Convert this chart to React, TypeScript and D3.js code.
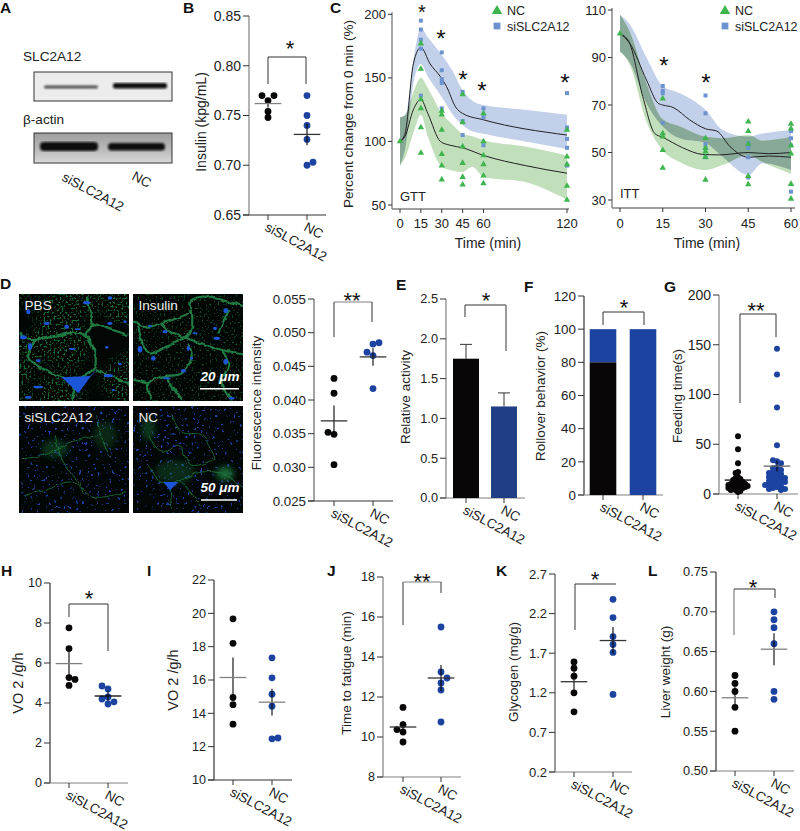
import React from 'react';
import * as d3 from 'd3';

const categories = ['siSLC2A12', 'NC'];
const FONT = '"Liberation Sans", Arial, sans-serif';
const BLACK = '#080606';
const BLUE = '#1c43a0';
const GRAY = '#808080';
const DARK = '#333333';

// Panel B
const bTicks = [0.65, 0.7, 0.75, 0.8, 0.85];
const bSi = [0.77, 0.77, 0.765, 0.754, 0.748];
const bSiLane = [-1, 1, 0, 0, 0];
const bNc = [0.77, 0.75, 0.74, 0.726, 0.7, 0.703];
const bNcLane = [0, 0, 0, 0, 0, 1];
const bMean = [0.762, 0.731];
const bSem = [0.004, 0.011];
// Panel D
const dTicks = [0.025, 0.03, 0.035, 0.04, 0.045, 0.05, 0.055];
const dSi = [0.0432, 0.041, 0.0349, 0.0352, 0.0304];
const dSiLane = [0, 0, 0, -1, 0];
const dNc = [0.0485, 0.0483, 0.0471, 0.0466, 0.0417];
const dNcLane = [1, 0, -1, 0, 0];
const dMean = [0.0369, 0.0464];
const dSem = [0.0023, 0.0013];
// Panel E
const eTicks = [0, 0.5, 1, 1.5, 2, 2.5];
const eValues = [1.75, 1.15];
const eErrors = [0.18, 0.17];
// Panel F
const fTicks = [0, 20, 40, 60, 80, 100, 120];
const fBlack = [80, 0];
const fBlue = [20, 100];
// Panel G
const gTicks = [0, 50, 100, 150, 200];
const gSi = [58, 45, 31, 17, 22, 21, 16, 15, 14, 14, 13, 12, 12, 11, 11, 10, 10, 10, 9, 9, 9, 8, 8, 8, 7, 7, 7, 6, 6, 6, 5, 5, 4, 4, 3, 2];
const gNc = [146, 120, 87, 49, 33, 34, 31, 27, 26, 24, 23, 22, 21, 20, 19, 18, 17, 16, 16, 15, 14, 13, 12, 12, 11, 10, 9, 9, 8, 7, 6, 5, 5, 4];
const gMean = [14, 28];
const gSem = [2.5, 5.5];
// Panel H
const hTicks = [0, 2, 4, 6, 8, 10];
const hSi = [7.76, 6.72, 5.27, 5.18, 4.88];
const hSiLane = [0, 0, 0, 1, 0];
const hNc = [4.85, 4.7, 4.2, 4.3, 4.06, 3.95];
const hNcLane = [-1, 0, -1, 0, 1, 0];
const hMean = [5.97, 4.35];
const hSem = [0.6, 0.25];
// Panel I
const iTicks = [10, 12, 14, 16, 18, 20, 22];
const iSi = [19.67, 18.2, 14.95, 14.52, 13.35];
const iSiLane = [0, 0, 0, 0, 0];
const iNc = [17.33, 16.13, 15.15, 14.43, 12.47, 12.52];
const iNcLane = [0, 0, 0, 0, 0, 1];
const iMean = [16.15, 14.67];
const iSem = [1.2, 0.8];
// Panel J
const jTicks = [8, 10, 12, 14, 16, 18];
const jSi = [11.48, 10.62, 10.37, 10.25, 9.75];
const jSiLane = [0, 0, -1, 0, 0];
const jNc = [15.5, 13.25, 12.95, 12.7, 12.35, 10.75];
const jNcLane = [0, 0, 1, 0, 0, 0];
const jMean = [10.5, 12.95];
const jSem = [0.3, 0.65];
// Panel K
const kTicks = [0.2, 0.7, 1.2, 1.7, 2.2, 2.7];
const kSi = [1.59, 1.51, 1.41, 1.2, 0.96];
const kNc = [2.38, 2.15, 1.91, 1.81, 1.71, 1.18];
const kZero5 = [0, 0, 0, 0, 0];
const kZero6 = [0, 0, 0, 0, 0, 0];
const kMean = [1.34, 1.86];
const kSem = [0.13, 0.17];
// Panel L
const lTicks = [0.5, 0.55, 0.6, 0.65, 0.7, 0.75];
const lSi = [0.62, 0.61, 0.6, 0.58, 0.55];
const lNc = [0.7, 0.69, 0.68, 0.66, 0.6, 0.59];
const lMean = [0.592, 0.653];
const lSem = [0.014, 0.02];

// Panel C, GTT
const gttTicks = [50, 100, 150, 200];
const gttTimeTicks = [0, 15, 30, 45, 60, 120];
const gttBandT = [0, 4, 10, 15, 20, 30, 38, 45, 52, 60, 90, 120];
const gttSiUpper = [119, 121, 167, 189, 182, 168, 155, 140, 132, 128.6, 125, 121];
const gttSiLower = [81, 96, 148, 161, 151, 135, 121, 113, 108, 106, 100, 94];
const gttNcUpper = [119, 121, 140, 150, 142, 122, 113, 106, 104, 101, 96, 89];
const gttNcLower = [81, 88, 108, 121, 104, 80, 77, 76, 80, 72, 68, 54];
const gttSiLineT = [0, 3.6, 9.6, 15, 21.6, 29, 33.5, 40, 45, 60, 120];
const gttSiLine = [100, 106, 161, 174, 161, 151, 143, 127, 122, 117, 105];
const gttNcLineT = [0, 3.6, 9.6, 15, 20, 29, 36, 45, 60, 90, 120];
const gttNcLine = [100, 104, 125, 133, 122, 100, 97, 95, 89, 81, 75];
const gttTimes = [15, 30, 45, 60, 120];
const gttSiPts = [[195, 188, 180, 173, 136], [170, 156, 149, 146, 126], [139, 116, 105], [126, 119, 97], [138, 111, 102, 95, 81]];
const gttNcPts = [[177, 157, 133, 126, 111, 91], [124, 121, 109, 90, 81, 70], [137, 115, 96, 83, 72, 66], [122, 100, 89, 82, 73, 67], [109, 88, 82, 65, 54]];
// Panel C, ITT
const ittTicks = [30, 50, 70, 90, 110];
const ittTimeTicks = [0, 15, 30, 45, 60];
const ittBandT = [0, 3.4, 9.3, 15, 21, 30, 36, 45, 50, 60];
const ittSiUpper = [108, 104, 90, 78, 75, 68, 59.5, 56.7, 58, 59.5];
const ittSiLower = [92.5, 88, 70.7, 61, 56, 54, 48.2, 40.5, 45.5, 42.6];
const ittNcUpper = [108, 101, 79, 64, 61, 56.7, 56, 57.4, 55, 56.6];
const ittNcLower = [92.5, 87, 63, 51, 46, 42.6, 44.7, 49, 46, 41];
const ittSiLineT = [0, 3.4, 9.3, 13.4, 15, 18.6, 24.5, 30, 34, 38.6, 45, 52, 60];
const ittSiLine = [100, 96, 80.5, 70.7, 70, 69, 63.7, 60, 59, 52.5, 48, 48.5, 48];
const ittNcLineT = [0, 3, 8, 12.2, 15, 22, 29, 35, 45, 52, 60];
const ittNcLine = [100, 97, 73.5, 58, 56.4, 52, 49.2, 49, 50, 49.5, 50];
const ittTimes = [15, 30, 45, 60];
const ittSiPts = [[78, 76, 75, 62.5], [74, 66.5, 53.6, 51.8, 48], [54, 52, 48, 39.5], [59, 56, 53, 33.5]];
const ittNcPts = [[72.7, 58, 56.7, 51, 43.5], [56, 51.8, 50.4, 48, 38.5], [63, 59, 53.6, 40, 36.6], [62, 60, 53, 49.5, 36.7, 30.5]];

// Image-panel sketches, in zoomed-image units of the micrographs
const upperMembranes = [
  [[12, 130], [50, 150], [100, 140], [210, 135], [240, 230], [180, 270]],
  [[240, 240], [340, 280]],
  [[210, 135], [232, 100], [220, 50], [215, 20]],
  [[60, 150], [40, 200], [90, 240], [150, 265]],
  [[180, 290], [170, 330]],
  [[232, 100], [340, 135]],
  [[358, 90], [380, 110], [440, 100], [530, 60], [520, 40], [560, 20], [690, 50]],
  [[440, 100], [460, 120], [530, 150], [620, 180], [690, 190]],
  [[530, 60], [525, 130], [470, 160], [400, 190], [370, 110]],
  [[520, 160], [530, 200], [500, 250], [440, 260], [400, 280], [410, 330]],
  [[620, 180], [640, 220], [620, 280], [650, 330]],
  [[610, 130], [640, 60]],
  [[450, 260], [500, 330]],
  [[400, 280], [358, 270]],
];
const upperBlobs = [
  [215, 38, 11, 5], [285, 24, 7, 5], [95, 100, 9, 5], [155, 110, 7, 6], [285, 100, 8, 5], [188, 118, 9, 3], [25, 142, 10, 6], [45, 170, 6, 10], [172, 177, 10, 3],
  [70, 212, 7, 4], [315, 222, 5, 4], [275, 172, 5, 4], [280, 257, 14, 5], [70, 291, 15, 4], [295, 300, 6, 3], [40, 322, 10, 4], [40, 65, 6, 8], [330, 95, 5, 4],
  [450, 125, 8, 5], [405, 108, 7, 3], [375, 178, 7, 10], [415, 205, 7, 7], [520, 175, 5, 8], [530, 205, 4, 4], [505, 242, 8, 5], [632, 215, 7, 8], [632, 62, 7, 7],
  [600, 115, 6, 5], [605, 145, 10, 5], [455, 265, 12, 3], [540, 130, 8, 3], [650, 325, 9, 4],
];
const lowerMembranes = [
  [[20, 170], [60, 165], [110, 150], [170, 120], [250, 100]],
  [[120, 100], [140, 170], [165, 210], [190, 240], [205, 275]],
  [[30, 280], [90, 265], [170, 240], [240, 285], [335, 268]],
  [[245, 40], [260, 110], [290, 170]],
  [[400, 190], [440, 240], [480, 240], [560, 210], [620, 215], [690, 260]],
  [[400, 100], [440, 150], [490, 130], [530, 190], [600, 170]],
  [[470, 40], [500, 90], [560, 100], [600, 170]],
  [[465, 255], [470, 320]],
  [[495, 235], [560, 310]],
];
const imageRects = [
  { x: 19, y: 294, w: 110, h: 107, label: 'PBS', kind: 'up' },
  { x: 133, y: 294, w: 110, h: 107, label: 'Insulin', kind: 'up2' },
  { x: 19, y: 406, w: 110, h: 107, label: 'siSLC2A12', kind: 'low' },
  { x: 133, y: 406, w: 110, h: 107, label: 'NC', kind: 'low2' },
];

type Panel = {
  letter?: string;
  ticks: number[]; fmt: string; tickSize: number;
  x0: number; top: number; bottom: number; xEnd: number; cats: number[];
  yColor: string; xColor: string; yWidth?: number;
  title: string; titleX: number; titleY: number; titleSize?: number;
  bracket?: { top: number; xL: number; xR: number; yL: number; yR: number; colors: string[]; widths: number[] };
  star?: { text: string; x: number; y: number };
};

const Star = ({ x, y, text, size = 22 }: any) => (
  <text x={x} y={y + size * 0.58} textAnchor="middle" fontSize={size} fontFamily={FONT} fill="#111">{text}</text>
);

function Frame({ p, y }: { p: Panel; y: any }) {
  const f = d3.format(p.fmt);
  const x = d3.scalePoint().domain(categories).range(p.cats as any);
  const b = p.bracket;
  return (
    <g fontFamily={FONT} fill="#222">
      <line x1={p.x0} x2={p.x0} y1={p.top} y2={p.bottom} stroke={p.yColor} strokeWidth={p.yWidth ?? 1.2} />
      <line x1={p.x0 - 6} x2={p.xEnd} y1={p.bottom} y2={p.bottom} stroke={p.xColor} strokeWidth={1.2} />
      {p.ticks.map(t => (
        <g key={t}>
          <line x1={p.x0 - 6} x2={p.x0} y1={y(t)} y2={y(t)} stroke={DARK} strokeWidth={1} />
          <text x={p.x0 - 8} y={y(t)} dy="0.35em" textAnchor="end" fontSize={p.tickSize}>{f(t)}</text>
        </g>
      ))}
      {categories.map(c => (
        <g key={c}>
          <line x1={x(c)} x2={x(c)} y1={p.bottom} y2={p.bottom + 5} stroke={DARK} strokeWidth={1} />
          <text transform={`translate(${x(c)! - 4},${p.bottom + 15}) rotate(28)`} fontSize={13.5}>{c}</text>
        </g>
      ))}
      <text transform={`translate(${p.titleX},${p.titleY}) rotate(-90)`} dy="0.35em" textAnchor="middle" fontSize={p.titleSize ?? 13.5}>{p.title}</text>
      {b && (
        <g fill="none">
          <line x1={b.xL} x2={b.xL} y1={b.top} y2={b.yL} stroke={b.colors[0]} strokeWidth={b.widths[0]} />
          <line x1={b.xL} x2={b.xR} y1={b.top} y2={b.top} stroke={b.colors[1]} strokeWidth={1} />
          <line x1={b.xR} x2={b.xR} y1={b.top} y2={b.yR} stroke={b.colors[2]} strokeWidth={b.widths[1]} />
        </g>
      )}
      {p.star && <Star {...p.star} />}
    </g>
  );
}

function dodge(values: number[], y: any, step: number, minDist: number) {
  const placed: { l: number; py: number }[] = [];
  return values.map(v => {
    const py = y(v);
    let lane = 0;
    for (let i = 0; i < 14; i++) {
      const cand = i === 0 ? 0 : (i % 2 ? -1 : 1) * Math.ceil(i / 2);
      const ok = placed.every(q => Math.hypot((q.l - cand) * step, q.py - py) >= minDist);
      if (ok) { lane = cand; break; }
    }
    placed.push({ l: lane, py });
    return lane;
  });
}

function Scatter({ p, domain, groups, means, sems, meanColors, laneSteps = [6, 6], r = 3.4 }: any) {
  const y = d3.scaleLinear().domain(domain).range([p.bottom, p.top]);
  return (
    <g>
      <Frame p={p} y={y} />
      {groups.map((g: any, i: number) => {
        const cx = p.cats[i];
        const color = i === 0 ? BLACK : BLUE;
        return (
          <g key={i}>
            {g.values.map((v: number, j: number) => (
              <circle key={j} cx={cx + g.lanes[j] * laneSteps[i]} cy={y(v)} r={r} fill={color} />
            ))}
            <line x1={cx} x2={cx} y1={y(means[i] - sems[i])} y2={y(means[i] + sems[i])} stroke={BLACK} strokeWidth={1.1} />
            <line x1={cx - 13.3} x2={cx + 13.3} y1={y(means[i])} y2={y(means[i])} stroke={meanColors[i]} strokeWidth={1.3} />
          </g>
        );
      })}
    </g>
  );
}

function Blots() {
  const t = { fontFamily: FONT, fontSize: 13.6, fill: '#222' };
  return (
    <g>
      <text x={23} y={61} {...t}>SLC2A12</text>
      <text x={23} y={124} {...t}>β-actin</text>
      <rect x={34} y={72} width={138} height={29} fill="#ececec" stroke="#333" />
      <g filter="url(#blot)">
        <rect x={44} y={85.5} width={54} height={3} rx={1.5} fill="#4c4c4c" />
        <rect x={113} y={83} width={54} height={5.5} rx={2} fill="#0c0c0c" />
      </g>
      <rect x={34} y={133} width={138} height={30} fill="url(#blotBg)" stroke="#333" />
      <g filter="url(#blot)">
        <rect x={40} y={142} width={58} height={9} rx={4} fill="#0a0a0a" />
        <rect x={108} y={143} width={57} height={7.5} rx={3.5} fill="#0a0a0a" />
      </g>
      <text transform="translate(61,180) rotate(28)" {...t} fontSize={13.5}>siSLC2A12</text>
      <text transform="translate(131,179) rotate(28)" {...t} fontSize={13.5}>NC</text>
    </g>
  );
}

function Micro() {
  const zxU = (z: number) => 15 + z / 3;
  const zyU = (z: number) => 290 + z / 3;
  const zyL = (z: number) => 402 + z / 3;
  const line = d3.line().curve(d3.curveCatmullRom);
  const poly = d3.line();
  const upPath = (m: number[][]) => line(m.map(q => [zxU(q[0]), zyU(q[1])] as [number, number]));
  const lowPath = (m: number[][]) => line(m.map(q => [zxU(q[0]), zyL(q[1])] as [number, number]));
  return (
    <g>
      {imageRects.map(r => (
        <g key={r.label}>
          <rect x={r.x} y={r.y} width={r.w} height={r.h} fill="#020604" />
          {r.kind === 'up' && <rect x={r.x} y={r.y} width={r.w} height={r.h} filter="url(#spkGreen)" />}
          {r.kind === 'up2' && <rect x={r.x} y={r.y} width={r.w} height={r.h} filter="url(#spkGreenLow)" />}
          {(r.kind === 'low' || r.kind === 'low2') && <rect x={r.x} y={r.y} width={r.w} height={r.h} filter="url(#spkBlue)" />}
        </g>
      ))}
      <clipPath id="microClipUp"><rect x={19} y={294} width={224} height={107} /></clipPath>
      <clipPath id="microClipLow"><rect x={19} y={406} width={224} height={107} /></clipPath>
      <g clipPath="url(#microClipUp)">
        <g filter="url(#wobble)" fill="none" stroke="#23874a" strokeWidth={2.2} strokeLinejoin="round" opacity={0.9}>
          {upperMembranes.map((m, i) => <path key={i} d={upPath(m)!} />)}
        </g>
        <g filter="url(#soft)" fill="#1f55d8">
          {upperBlobs.map((b, i) => <ellipse key={i} cx={zxU(b[0])} cy={zyU(b[1])} rx={b[2] / 3} ry={b[3] / 3} />)}
          <path d={poly([[140, 262], [225, 258], [250, 235], [225, 262], [190, 310], [170, 290]].map(q => [zxU(q[0]), zyU(q[1])] as [number, number]))!} />
        </g>
      </g>
      <g clipPath="url(#microClipLow)">
        <g filter="url(#softer)">
          <ellipse cx={zxU(630)} cy={zyL(215)} rx={9} ry={7} fill="#1f8a46" opacity={0.75} />
          <ellipse cx={zxU(120)} cy={zyL(140)} rx={14} ry={9} fill="#16703a" opacity={0.4} />
          <ellipse cx={zxU(270)} cy={zyL(100)} rx={12} ry={14} fill="#16703a" opacity={0.3} />
          <ellipse cx={zxU(400)} cy={zyL(80)} rx={7} ry={12} fill="#16703a" opacity={0.45} />
          <ellipse cx={zxU(480)} cy={zyL(210)} rx={20} ry={12} fill="#16703a" opacity={0.35} />
        </g>
        <g filter="url(#wobble)" fill="none" stroke="#1f8a46" strokeWidth={1} opacity={0.7}>
          {lowerMembranes.map((m, i) => <path key={i} d={lowPath(m)!} />)}
        </g>
        <path d={poly([[445, 240], [490, 240], [465, 265]].map(q => [zxU(q[0]), zyL(q[1])] as [number, number]))!} fill="#1f55d8" filter="url(#soft)" />
      </g>
      <g fontFamily={FONT} fontSize={13.6} fill="#eee">
        {imageRects.map(r => (
          <text key={r.label} x={r.x + 5.5} y={r.y + (r.y < 400 ? 15.5 : 16)}>{r.label}</text>
        ))}
      </g>
      <g fontFamily={FONT} fontSize={13.5} fontWeight="bold" fontStyle="italic" fill="#fff" textAnchor="middle">
        <text x={220} y={381}>20 μm</text>
        <text x={220} y={492}>50 μm</text>
      </g>
      <line x1={200} x2={239} y1={388.7} y2={388.7} stroke="#fff" strokeWidth={1.6} />
      <line x1={201} x2={237} y1={500} y2={500} stroke="#fff" strokeWidth={1.6} />
    </g>
  );
}

const SI_COL = '#6c93cf';
const NC_COL = '#3fb54f';

function Curves({ id, x, y, bandT, siU, siL, ncU, ncL, siT, si, ncT, nc, times, siPts, ncPts }: any) {
  const area = (u: number[], l: number[]) => d3.area<number>().x((_, i) => x(bandT[i])).y0((_, i) => y(l[i])).y1((_, i) => y(u[i])).curve(d3.curveMonotoneX)(bandT);
  const ln = (T: number[], v: number[]) => d3.line<number>().x((_, i) => x(T[i])).y((_, i) => y(v[i])).curve(d3.curveMonotoneX)(T);
  const tri = d3.symbol().type(d3.symbolTriangle).size(18)()!;
  const sq = d3.symbol().type(d3.symbolSquare).size(16)()!;
  return (
    <g>
      <clipPath id={id}><path d={area(siU, siL)!} /></clipPath>
      <path d={area(siU, siL)!} fill="#c3d0ea" />
      <path d={area(ncU, ncL)!} fill="#c2dfbc" />
      <path d={area(ncU, ncL)!} fill="#88a898" clipPath={`url(#${id})`} />
      <path d={ln(siT, si)!} fill="none" stroke="#222" strokeWidth={1} />
      <path d={ln(ncT, nc)!} fill="none" stroke="#222" strokeWidth={1} />
      {times.map((t: number, i: number) => siPts[i].map((v: number, j: number) => (
        <path key={`s${i}${j}`} d={sq} transform={`translate(${x(t)},${y(v)})`} fill={SI_COL} />
      )))}
      {times.map((t: number, i: number) => ncPts[i].map((v: number, j: number) => (
        <path key={`n${i}${j}`} d={tri} transform={`translate(${x(t)},${y(v)})`} fill={NC_COL} />
      )))}
      <path d={tri} transform={`translate(${x(0)},${y(100)})`} fill={NC_COL} />
    </g>
  );
}

function PanelC() {
  const gx = d3.scaleLinear().domain([0, 120]).range([400, 567]);
  const gy = d3.scaleLinear().domain([50, 200]).range([205, 14.3]);
  const ix = d3.scaleLinear().domain([0, 60]).range([620, 791]);
  const iy = d3.scaleLinear().domain([30, 110]).range([200, 10]);
  const legendTri = d3.symbol().type(d3.symbolTriangle).size(48)()!;
  const legendSq = d3.symbol().type(d3.symbolSquare).size(46)()!;
  const Axes = ({ x, y, ax, bottom, xEnd, yt, xt }: any) => (
    <g fontFamily={FONT} fill="#222" fontSize={13}>
      <line x1={ax} x2={ax} y1={y(yt[yt.length - 1]) - 2} y2={bottom} stroke={GRAY} strokeWidth={1.4} />
      <line x1={ax} x2={xEnd} y1={bottom} y2={bottom} stroke={GRAY} strokeWidth={1.4} />
      {yt.map((t: number) => (
        <g key={t}>
          <line x1={ax - 4} x2={ax} y1={y(t)} y2={y(t)} stroke={DARK} />
          <text x={ax - 6} y={y(t)} dy="0.35em" textAnchor="end">{t}</text>
        </g>
      ))}
      {xt.map((t: number) => (
        <g key={t}>
          <line x1={x(t)} x2={x(t)} y1={bottom} y2={bottom + 4} stroke={DARK} />
          <text x={x(t)} y={228} textAnchor="middle">{t}</text>
        </g>
      ))}
    </g>
  );
  const LegendC = ({ x }: any) => (
    <g fontFamily={FONT} fontSize={12.5} fill="#222">
      <path d={legendTri} transform={`translate(${x},11)`} fill={NC_COL} />
      <text x={x + 10} y={15}>NC</text>
      <path d={legendSq} transform={`translate(${x},26)`} fill={SI_COL} />
      <text x={x + 10} y={31}>siSLC2A12</text>
    </g>
  );
  return (
    <g>
      <Curves id="clipGtt" x={gx} y={gy} bandT={gttBandT} siU={gttSiUpper} siL={gttSiLower} ncU={gttNcUpper} ncL={gttNcLower}
        siT={gttSiLineT} si={gttSiLine} ncT={gttNcLineT} nc={gttNcLine} times={gttTimes} siPts={gttSiPts} ncPts={gttNcPts} />
      <Axes x={gx} y={gy} ax={392} bottom={209} xEnd={569} yt={gttTicks} xt={gttTimeTicks} />
      <Curves id="clipItt" x={ix} y={iy} bandT={ittBandT} siU={ittSiUpper} siL={ittSiLower} ncU={ittNcUpper} ncL={ittNcLower}
        siT={ittSiLineT} si={ittSiLine} ncT={ittNcLineT} nc={ittNcLine} times={ittTimes} siPts={ittSiPts} ncPts={ittNcPts} />
      <Axes x={ix} y={iy} ax={612} bottom={208} xEnd={795} yt={ittTicks} xt={ittTimeTicks} />
      <LegendC x={497} />
      <LegendC x={725} />
      <g fontFamily={FONT} fontSize={14} fill="#222">
        <text x={400} y={201} fontSize={13}>GTT</text>
        <text x={620} y={198} fontSize={13}>ITT</text>
        <text x={488} y={248} textAnchor="middle">Time (min)</text>
        <text x={707} y={248} textAnchor="middle">Time (min)</text>
        <text transform="translate(348,114) rotate(-90)" dy="0.35em" textAnchor="middle" fontSize={13.6}>Percent change from 0 min (%)</text>
      </g>
      <Star x={422} y={7} text="*" size={20} />
      <Star x={441} y={33} text="*" size={24} />
      <Star x={463} y={74} text="*" size={24} />
      <Star x={482} y={85} text="*" size={24} />
      <Star x={565} y={77} text="*" size={24} />
      <Star x={664} y={60} text="*" size={24} />
      <Star x={706} y={77} text="*" size={24} />
    </g>
  );
}

const pB: Panel = { ticks: bTicks, fmt: '.2f', tickSize: 14, x0: 249, top: 16, bottom: 215, xEnd: 326, cats: [268, 307], yColor: GRAY, xColor: DARK, title: 'Insulin (kpg/mL)', titleX: 201, titleY: 122, titleSize: 14,
  bracket: { top: 57, xL: 268, xR: 306, yL: 84, yR: 84, colors: [DARK, DARK, DARK], widths: [1, 1] }, star: { text: '*', x: 290, y: 43 } };
const pD: Panel = { ticks: dTicks, fmt: '.3f', tickSize: 13.3, x0: 314, top: 299, bottom: 501, xEnd: 393, cats: [334, 373], yColor: '#999', xColor: DARK, yWidth: 1.8, title: 'Fluorescence intensity', titleX: 256, titleY: 403,
  bracket: { top: 302, xL: 334, xR: 372, yL: 337, yR: 322, colors: [DARK, GRAY, DARK], widths: [1, 1] }, star: { text: '**', x: 352, y: 295 } };
const pE: Panel = { ticks: eTicks, fmt: '.1f', tickSize: 12.8, x0: 446, top: 299, bottom: 498, xEnd: 525, cats: [466, 504], yColor: GRAY, xColor: GRAY, title: 'Relative activity', titleX: 405, titleY: 397,
  bracket: { top: 305, xL: 465, xR: 506, yL: 317, yR: 351, colors: [DARK, DARK, GRAY], widths: [1, 1.6] }, star: { text: '*', x: 486, y: 295 } };
const pF: Panel = { ticks: fTicks, fmt: 'd', tickSize: 13.4, x0: 584, top: 296, bottom: 495, xEnd: 663, cats: [603, 643], yColor: DARK, xColor: GRAY, title: 'Rollover behavior (%)', titleX: 540, titleY: 396,
  bracket: { top: 312, xL: 603, xR: 644, yL: 325, yR: 325, colors: [DARK, DARK, DARK], widths: [1, 1] }, star: { text: '*', x: 624, y: 302 } };
const pG: Panel = { ticks: gTicks, fmt: 'd', tickSize: 14, x0: 719, top: 295, bottom: 494, xEnd: 798, cats: [738, 777], yColor: GRAY, xColor: GRAY, title: 'Feeding time(s)', titleX: 677, titleY: 396,
  bracket: { top: 314, xL: 740, xR: 776, yL: 403, yR: 337, colors: [GRAY, DARK, DARK], widths: [1.6, 1] }, star: { text: '**', x: 756, y: 305 } };
const pH: Panel = { ticks: hTicks, fmt: 'd', tickSize: 12.6, x0: 50, top: 583, bottom: 783, xEnd: 128, cats: [69, 108], yColor: DARK, xColor: GRAY, title: 'VO 2 /g/h', titleX: 18, titleY: 683, titleSize: 14.5,
  bracket: { top: 604, xL: 69, xR: 108, yL: 617, yR: 651, colors: [DARK, DARK, DARK], widths: [1, 1] }, star: { text: '*', x: 89, y: 593 } };
const pI: Panel = { ticks: iTicks, fmt: 'd', tickSize: 12.6, x0: 214, top: 580, bottom: 780, xEnd: 292, cats: [233, 272], yColor: DARK, xColor: DARK, title: 'VO 2 /g/h', titleX: 173, titleY: 680, titleSize: 14.5 };
const pJ: Panel = { ticks: jTicks, fmt: 'd', tickSize: 12.6, x0: 383, top: 577, bottom: 777, xEnd: 461, cats: [403, 441], yColor: GRAY, xColor: GRAY, title: 'Time to fatigue (min)', titleX: 346, titleY: 673,
  bracket: { top: 582, xL: 403, xR: 441, yL: 625, yR: 593, colors: [DARK, GRAY, DARK], widths: [1, 1] }, star: { text: '**', x: 422, y: 576 } };
const pK: Panel = { ticks: kTicks, fmt: '.1f', tickSize: 13, x0: 555, top: 574, bottom: 772, xEnd: 632, cats: [574, 613], yColor: '#555', xColor: GRAY, title: 'Glycogen (mg/g)', titleX: 513, titleY: 672,
  bracket: { top: 584, xL: 575, xR: 616, yL: 630, yR: 584, colors: [GRAY, DARK, DARK], widths: [1.6, 1] }, star: { text: '*', x: 595, y: 574 } };
const pL: Panel = { ticks: lTicks, fmt: '.2f', tickSize: 12.8, x0: 716, top: 572, bottom: 771, xEnd: 794, cats: [735, 774], yColor: DARK, xColor: GRAY, title: 'Liver weight (g)', titleX: 665, titleY: 672,
  bracket: { top: 589, xL: 734, xR: 775, yL: 635, yR: 598, colors: [GRAY, DARK, DARK], widths: [1.2, 1] }, star: { text: '*', x: 753, y: 582 } };

const letters: [string, number, number][] = [
  ['A', 0, 13], ['B', 183, 13], ['C', 330, 13], ['D', 0, 289], ['E', 396, 290], ['F', 524, 292], ['G', 664, 292],
  ['H', 1, 576], ['I', 147, 576], ['J', 327, 576], ['K', 496, 576], ['L', 648, 576],
];

function PanelE() {
  const y = d3.scaleLinear().domain([0, 2.5]).range([pE.bottom, pE.top]);
  return (
    <g>
      <Frame p={pE} y={y} />
      {eValues.map((v, i) => (
        <g key={i}>
          <line x1={pE.cats[i]} x2={pE.cats[i]} y1={y(v)} y2={y(v + eErrors[i])} stroke={DARK} />
          <line x1={pE.cats[i] - 6} x2={pE.cats[i] + 6} y1={y(v + eErrors[i])} y2={y(v + eErrors[i])} stroke={DARK} />
          <rect x={pE.cats[i] - 13} width={26} y={y(v)} height={y(0) - y(v)} fill={i === 0 ? BLACK : '#1f3e86'} />
        </g>
      ))}
    </g>
  );
}

function PanelF() {
  const y = d3.scaleLinear().domain([0, 120]).range([pF.bottom, pF.top]);
  return (
    <g>
      <Frame p={pF} y={y} />
      {categories.map((_, i) => (
        <g key={i}>
          <rect x={pF.cats[i] - 13.3} width={26.6} y={y(fBlack[i] + fBlue[i])} height={y(fBlack[i]) - y(fBlack[i] + fBlue[i])} fill={BLUE} />
          <rect x={pF.cats[i] - 13.3} width={26.6} y={y(fBlack[i])} height={y(0) - y(fBlack[i])} fill={BLACK} />
        </g>
      ))}
    </g>
  );
}

export default function App() {
  const gy = d3.scaleLinear().domain([0, 200]).range([pG.bottom, pG.top]);
  return (
    <svg width={800} height={831} style={{ position: 'absolute', left: 0, top: 0, display: 'block', background: '#fff' }}>
      <defs>
        <filter id="blot"><feGaussianBlur stdDeviation="0.8" /></filter>
        <filter id="soft"><feGaussianBlur stdDeviation="0.5" /></filter>
        <filter id="softer"><feGaussianBlur stdDeviation="3" /></filter>
        <filter id="wobble" x="-10%" y="-10%" width="120%" height="120%">
          <feTurbulence type="fractalNoise" baseFrequency="0.12" numOctaves="2" seed="2" result="n" />
          <feDisplacementMap in="SourceGraphic" in2="n" scale="4" xChannelSelector="R" yChannelSelector="G" />
          <feGaussianBlur stdDeviation="0.6" />
        </filter>
        <linearGradient id="blotBg" x1="0" x2="0" y1="0" y2="1">
          <stop offset="0" stopColor="#9e9e9e" />
          <stop offset="0.6" stopColor="#bdbdbd" />
          <stop offset="1" stopColor="#d8d8d8" />
        </linearGradient>
        <filter id="spkGreen" x="0" y="0" width="100%" height="100%" colorInterpolationFilters="sRGB">
          <feTurbulence type="fractalNoise" baseFrequency="0.5" numOctaves="2" seed="4" result="hi" />
          <feColorMatrix in="hi" values="0 0 0 0 0.09  0 0 0 0 0.42  0 0 0 0 0.20  6 0 0 0 -3.1" result="dots" />
          <feTurbulence type="fractalNoise" baseFrequency="0.025" numOctaves="1" seed="11" result="lo" />
          <feColorMatrix in="lo" values="0 0 0 0 0  0 0 0 0 0  0 0 0 0 0  5 0 0 0 -1.7" result="mask" />
          <feComposite in="dots" in2="mask" operator="in" />
        </filter>
        <filter id="spkGreenLow" x="0" y="0" width="100%" height="100%" colorInterpolationFilters="sRGB">
          <feTurbulence type="fractalNoise" baseFrequency="0.5" numOctaves="2" seed="9" result="hi" />
          <feColorMatrix in="hi" values="0 0 0 0 0.07  0 0 0 0 0.30  0 0 0 0 0.15  6 0 0 0 -3.5" />
        </filter>
        <filter id="spkBlue" x="0" y="0" width="100%" height="100%" colorInterpolationFilters="sRGB">
          <feTurbulence type="fractalNoise" baseFrequency="0.33" numOctaves="2" seed="7" />
          <feColorMatrix values="0 0 0 0 0.11  0 0 0 0 0.24  0 0 0 0 0.62  14 0 0 0 -9.2" />
        </filter>
      </defs>
      <Blots />
      <Micro />
      <PanelC />
      <Scatter p={pB} domain={[0.65, 0.85]} groups={[{ values: bSi, lanes: bSiLane }, { values: bNc, lanes: bNcLane }]} means={bMean} sems={bSem} meanColors={[GRAY, DARK]} />
      <Scatter p={pD} domain={[0.025, 0.055]} groups={[{ values: dSi, lanes: dSiLane }, { values: dNc, lanes: dNcLane }]} means={dMean} sems={dSem} meanColors={[DARK, DARK]} />
      <PanelE />
      <PanelF />
      <Scatter p={pG} domain={[0, 200]} laneSteps={[2.4, 4]} r={3}
        groups={[{ values: gSi, lanes: dodge(gSi, gy, 2.4, 2.2) }, { values: gNc, lanes: dodge(gNc, gy, 4, 3.6) }]}
        means={gMean} sems={gSem} meanColors={[BLACK, '#666']} />
      <Scatter p={pH} domain={[0, 10]} groups={[{ values: hSi, lanes: hSiLane }, { values: hNc, lanes: hNcLane }]} means={hMean} sems={hSem} meanColors={[GRAY, BLACK]} />
      <Scatter p={pI} domain={[10, 22]} groups={[{ values: iSi, lanes: iSiLane }, { values: iNc, lanes: iNcLane }]} means={iMean} sems={iSem} meanColors={[GRAY, GRAY]} />
      <Scatter p={pJ} domain={[8, 18]} groups={[{ values: jSi, lanes: jSiLane }, { values: jNc, lanes: jNcLane }]} means={jMean} sems={jSem} meanColors={[DARK, DARK]} />
      <Scatter p={pK} domain={[0.2, 2.7]} groups={[{ values: kSi, lanes: kZero5 }, { values: kNc, lanes: kZero6 }]} means={kMean} sems={kSem} meanColors={[DARK, DARK]} />
      <Scatter p={pL} domain={[0.5, 0.75]} groups={[{ values: lSi, lanes: kZero5 }, { values: lNc, lanes: kZero6 }]} means={lMean} sems={lSem} meanColors={[GRAY, GRAY]} />
      <g fontFamily={FONT} fontWeight="bold" fontSize={15.5} fill="#111">
        {letters.map(([l, x, y]) => <text key={l} x={x} y={y}>{l}</text>)}
      </g>
    </svg>
  );
}
